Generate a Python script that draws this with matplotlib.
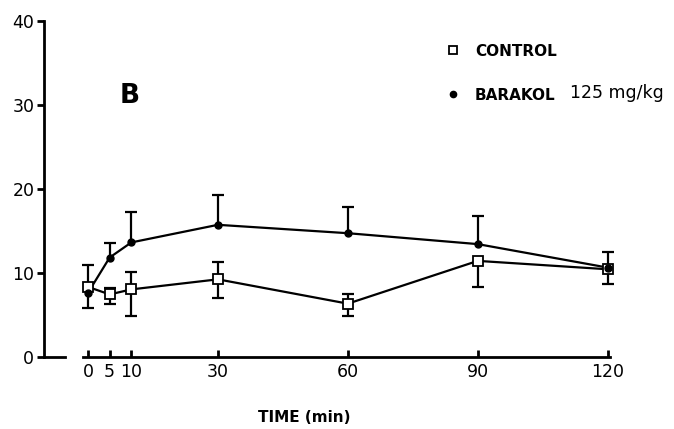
import numpy as np
import matplotlib
matplotlib.use("Agg")
import matplotlib.pyplot as plt

# time points (min)
time = np.array([0, 5, 10, 30, 60, 90, 120])

# BARAKOL 125 mg/kg: means and error bars (down / up)
barakol = np.array([7.6, 11.8, 13.6, 15.7, 14.7, 13.4, 10.6])
barakol_dn = np.array([0, 0, 0, 0, 0, 0, 0.0])
barakol_up = np.array([3.3, 1.7, 3.6, 3.5, 3.1, 3.4, 0.0])

# CONTROL
control = np.array([8.3, 7.4, 8.0, 9.2, 6.3, 11.4, 10.4])
control_dn = np.array([2.5, 1.1, 3.2, 2.2, 1.5, 3.1, 1.8])
control_up = np.array([0, 0.8, 2.1, 2.1, 1.1, 0, 2.1])

xticks = [0, 5, 10, 30, 60, 90, 120]
yticks = [0, 10, 20, 30, 40]

plt.rcParams["font.family"] = "DejaVu Sans"

W, H = 674, 429
fig = plt.figure(figsize=(W / 100, H / 100), dpi=100)
# axes box in pixels: left 44, right 625, top 21, bottom 356.5
ax = fig.add_axes([44 / W, 1 - 356.5 / H, (625 - 44) / W, (356.5 - 21) / H])

lw = 1.6


def draw_err(t, y, dn, up):
    lo = y - dn
    hi = y + up
    ax.vlines(t, lo, hi, color="black", lw=lw, zorder=2)
    m = up > 0
    ax.plot(t[m], hi[m], "_", color="black", ms=9, mew=lw, zorder=2)
    m = dn > 0
    ax.plot(t[m], lo[m], "_", color="black", ms=9, mew=lw, zorder=2)


draw_err(time, barakol, barakol_dn, barakol_up)
draw_err(time, control, control_dn, control_up)

ax.plot(time, barakol, "-", color="black", lw=lw, zorder=3)
ax.plot(time, control, "-", color="black", lw=lw, zorder=3)
ax.plot(time, control, "s", mfc="white", mec="black", mew=1.3, ms=6.5, zorder=5)
ax.plot(time, barakol, "o", color="black", ms=5, zorder=6)

ax.set_xlim(-10.16, 124)
ax.set_ylim(0, 40)
ax.set_xticks(xticks)
ax.set_yticks(yticks)

for s in ["top", "right"]:
    ax.spines[s].set_visible(False)
ax.spines["left"].set_linewidth(2)
ax.spines["bottom"].set_linewidth(2)
ax.spines["bottom"].set_bounds(-1.2, 120.5)
# short foot of the y axis
ax.axhline(0, xmin=0, xmax=(65 - 44) / (625 - 44), color="black", lw=2, clip_on=False)

ax.tick_params(axis="y", direction="out", length=5, width=2, pad=2, labelsize=12.5)
ax.tick_params(axis="x", direction="in", length=5, width=2, pad=5, labelsize=12.5)
ax.set_xlabel("TIME (min)", fontsize=11, fontweight="bold")
ax.xaxis.set_label_coords((304 - 44) / (625 - 44), -(410 - 356.5) / (356.5 - 21))

# panel letter
fig.text(130 / W, 1 - 96 / H, "B", fontsize=19, fontweight="bold", ha="center", va="center")

# legend
fig.text(475 / W, 1 - 51 / H, "CONTROL", fontsize=11, fontweight="bold", va="center")
fig.text(475 / W, 1 - 95 / H, "BARAKOL", fontsize=11, fontweight="bold", va="center")
fig.text(570 / W, 1 - 93 / H, "125 mg/kg", fontsize=12.5, va="center")
fig.add_artist(plt.Line2D([453 / W], [1 - 50 / H], marker="s", mfc="white", mec="black",
                          mew=1.3, ms=5.5, transform=fig.transFigure))
fig.add_artist(plt.Line2D([453 / W], [1 - 94 / H], marker="o", color="black",
                          ms=4.5, transform=fig.transFigure))

fig.savefig("out.png", dpi=100)
